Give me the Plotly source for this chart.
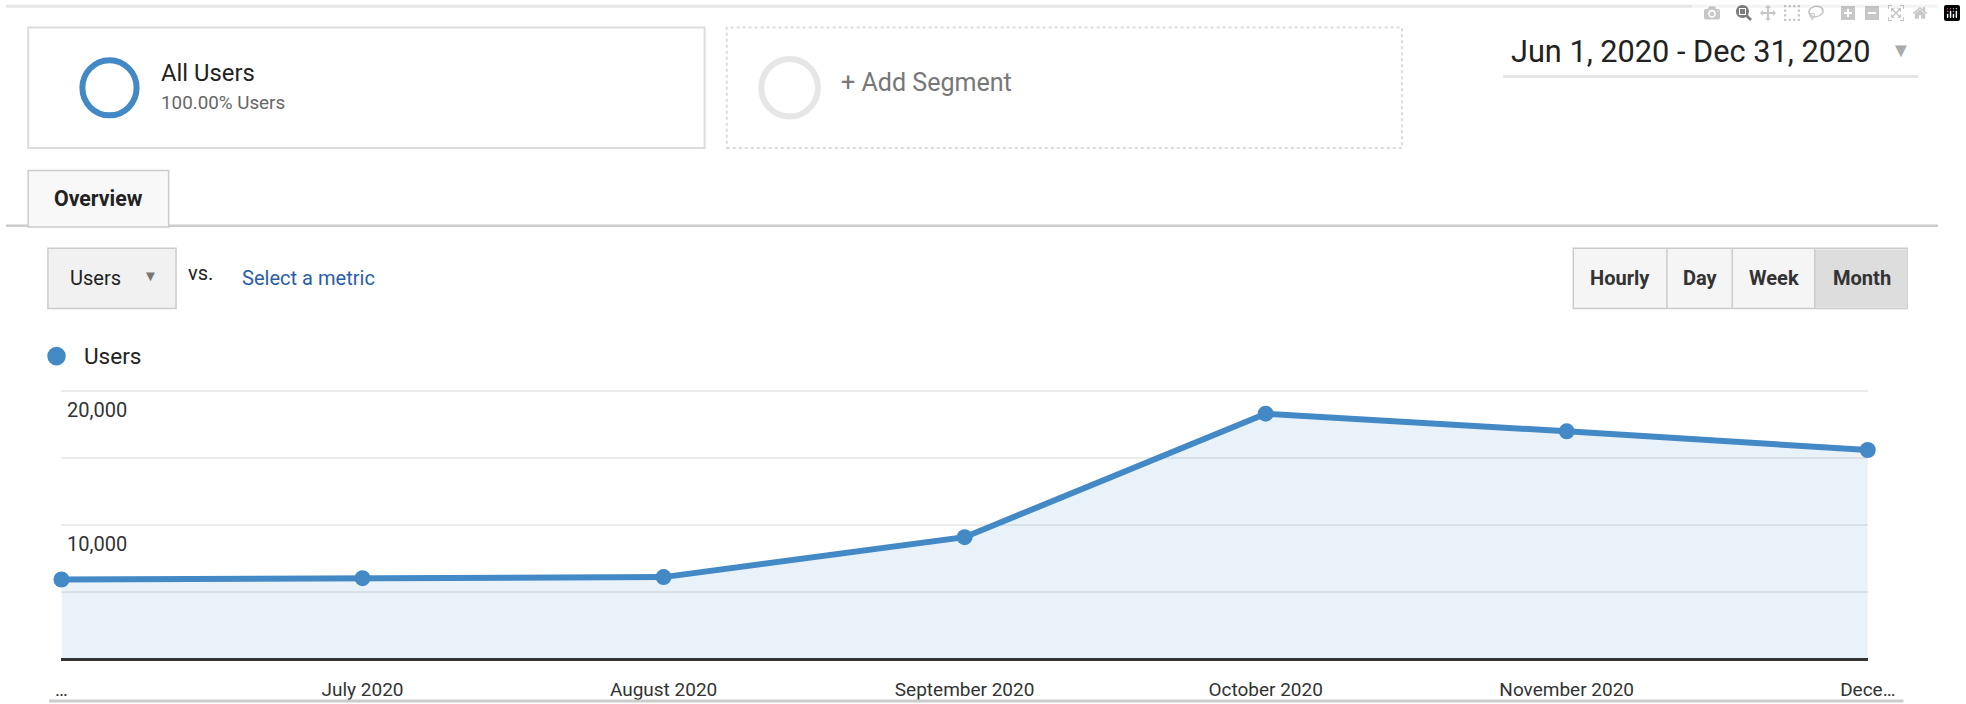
import plotly.graph_objects as go

months = ["Jun 2020", "Jul 2020", "Aug 2020", "Sep 2020", "Oct 2020", "Nov 2020", "Dec 2020"]
users = [5900, 6000, 6080, 9070, 18320, 17000, 15600]
tick_labels = ["…", "July 2020", "August 2020", "September 2020", "October 2020", "November 2020", "Dece…"]
y_labels = ["20,000", "10,000"]
y_label_vals = [20000, 10000]

W, H = 1966, 704
S = W / 1568.0
def px(x): return x * S / W
def py(y): return 1 - y * S / H

BLUE = "#4389c6"
FONT = "Roboto, Arial, sans-serif"

x0, x1, yt, yb = 45, 1511, 312, 525
fig = go.Figure()
fig.add_trace(go.Scatter(
    x=list(range(len(months))), y=users, mode="lines+markers",
    line=dict(color=BLUE, width=6), marker=dict(color=BLUE, size=16),
    fill="tozeroy", fillcolor="rgba(67,137,198,0.11)", hoverinfo="skip", cliponaxis=False))

fig.update_layout(
    width=W, height=H, margin=dict(l=0, r=0, t=0, b=0),
    paper_bgcolor="white", plot_bgcolor="white", showlegend=False,
    font=dict(family=FONT, color="#333"),
    xaxis=dict(domain=[px(x0), px(x1)], range=[0, len(months) - 1],
               tickvals=list(range(len(months))), ticktext=tick_labels,
               showgrid=False, zeroline=False, showline=True, linecolor="#333", linewidth=3,
               ticks="", tickfont=dict(size=19, color="#333"), ticklabelstandoff=12),
    yaxis=dict(domain=[py(yb), py(yt - 1)], range=[0, 20100], dtick=5000,
               showticklabels=False, gridcolor="#ececec", gridwidth=1.5, zeroline=False),
)

shapes, ann = [], []
def rect(a, b, c, d, **kw):
    shapes.append(dict(type="rect", xref="paper", yref="paper", x0=px(a), x1=px(c), y0=py(d), y1=py(b), **kw))
def line(a, b, c, d, color, width, dash="solid"):
    shapes.append(dict(type="line", xref="paper", yref="paper", x0=px(a), x1=px(c), y0=py(b), y1=py(d),
                       line=dict(color=color, width=width, dash=dash)))
def circ(cx, cy, r, **kw):
    shapes.append(dict(type="circle", xref="paper", yref="paper", x0=px(cx - r), x1=px(cx + r),
                       y0=py(cy + r), y1=py(cy - r), **kw))
def text(x, y, t, size, color="#222", xanchor="left", bold=False):
    if bold: t = "<b>" + t + "</b>"
    ann.append(dict(xref="paper", yref="paper", x=px(x), y=py(y), text=t, showarrow=False,
                    xanchor=xanchor, yanchor="middle", font=dict(size=size * S, color=color, family=FONT)))

line(0, 5, 1568, 5, "#e6e6e6", 3)
rect(18, 22, 567, 118, line=dict(color="#dcdcdc", width=2), fillcolor="white")
circ(84, 70, 22, line=dict(color=BLUE, width=6))
text(124, 58, "All Users", 19)
text(124, 82, "100.00% Users", 15, "#666")
rect(585, 22, 1133, 118, line=dict(color="#dcdcdc", width=2, dash="dot"), fillcolor="white")
circ(636, 70, 23, line=dict(color="#e6e6e6", width=6))
text(676, 66, "+ Add Segment", 20, "#777")
text(1220, 41, "Jun 1, 2020 - Dec 31, 2020", 24.5, "#222")
text(1538, 40, "▼", 16, "#aaa", "center")
line(1215, 61, 1552, 61, "#e6e6e6", 3)

rect(18, 136, 132, 181, line=dict(color="#cccccc", width=1.5), fillcolor="#f8f8f8")
line(0, 180, 18, 180, "#cccccc", 2.5)
line(132, 180, 1568, 180, "#cccccc", 2.5)
text(75, 158, "Overview", 17, "#222", "center", True)

rect(34, 198, 138, 246, line=dict(color="#cccccc", width=1.5), fillcolor="#f1f1f1")
text(50, 222, "Users", 16)
text(117, 220, "▼", 12, "#777", "center")
text(146, 218, "vs.", 16)
text(190, 222, "Select a metric", 16, "#2a5ea8")

rect(1272, 198, 1543, 246, line=dict(color="#cccccc", width=1.5), fillcolor="#f5f5f5")
rect(1468, 199, 1543, 245, line=dict(width=0), fillcolor="#dddddd")
for sx in (1348, 1401, 1468):
    line(sx, 198, sx, 246, "#cccccc", 1.5)
for cx, t in ((1310, "Hourly"), (1375, "Day"), (1435, "Week"), (1506, "Month")):
    text(cx, 222, t, 16, "#333", "center", True)

circ(41, 284, 7.5, line=dict(width=0), fillcolor=BLUE)
text(62, 284, "Users", 18)

for v, lab in zip(y_label_vals, y_labels):
    ann.append(dict(xref="paper", yref="y", x=px(48), y=v, text=lab, showarrow=False,
                    xanchor="left", yanchor="top", yshift=-5,
                    font=dict(size=16 * S, color="#333", family=FONT)))

line(35, 559, 1540, 559, "#cccccc", 3)

fig.update_layout(shapes=shapes, annotations=ann)
fig.write_html("out.html")
with open("out.html", encoding="utf-8") as f:
    html = f.read()
html = html.replace("<head>", "<head><style>html,body{margin:0;padding:0;overflow:hidden;}</style>", 1)
with open("out.html", "w", encoding="utf-8") as f:
    f.write(html)
